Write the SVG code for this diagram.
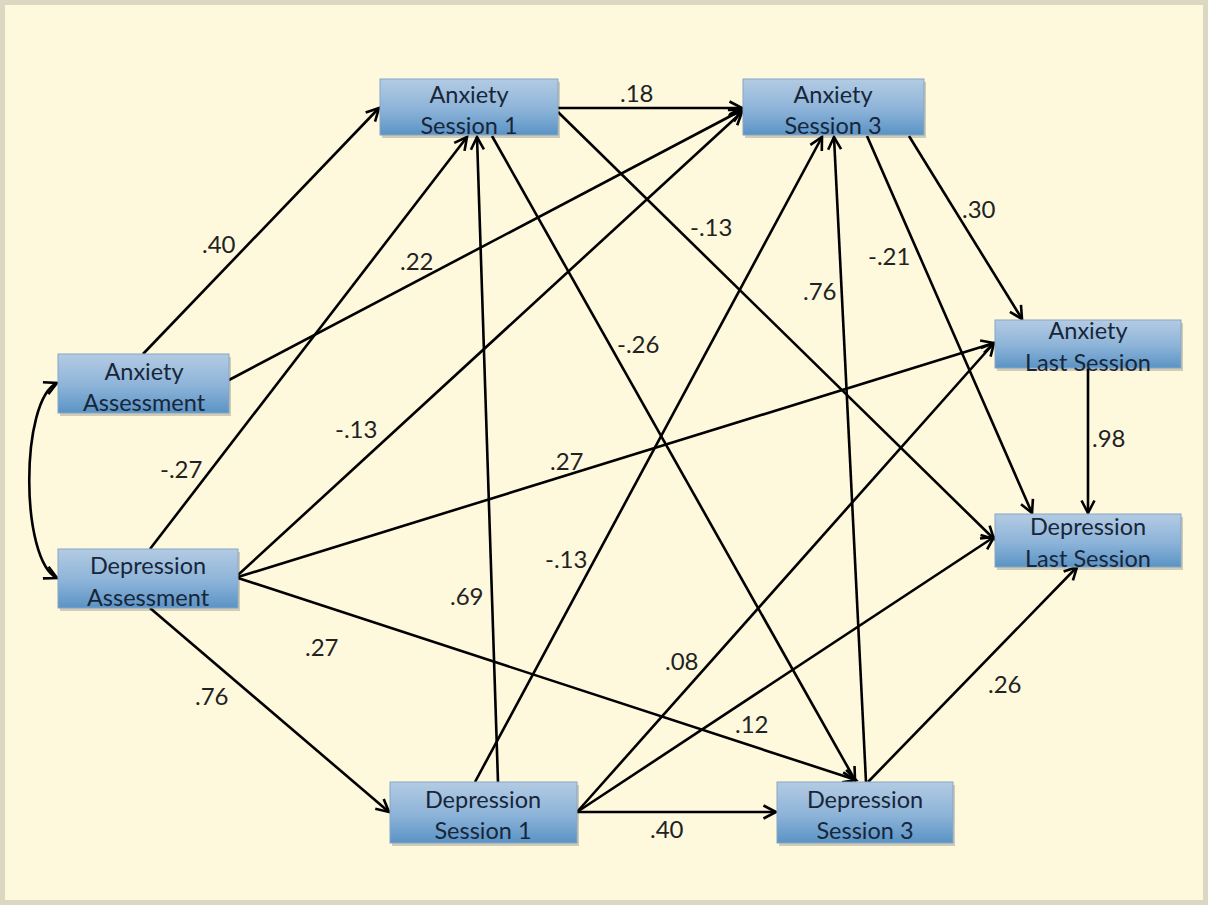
<svg xmlns="http://www.w3.org/2000/svg" width="1208" height="905" viewBox="0 0 1208 905">
<defs>
<linearGradient id="boxg" x1="0" y1="0" x2="0" y2="1">
<stop offset="0" stop-color="#b3cbe3"/>
<stop offset="0.55" stop-color="#8cb3d8"/>
<stop offset="1" stop-color="#5a93c5"/>
</linearGradient>
<marker id="arr" markerUnits="userSpaceOnUse" markerWidth="18" markerHeight="18" refX="14" refY="8" orient="auto-start-reverse" viewBox="0 0 18 16">
<path d="M1.5,1.5 L14,8 L1.5,14.5" fill="none" stroke="#000" stroke-width="2.6" stroke-linejoin="miter"/>
</marker>
</defs>
<style>
.node rect.b{fill:url(#boxg);stroke:#86a6c6;stroke-width:1}
.node rect.s{fill:#000;opacity:0.18}
.node text{font-family:Lato,"Open Sans",sans-serif;font-size:23.5px;fill:#18263a;text-anchor:middle}
.edges line,.edges path{stroke:#000;stroke-width:2.6;fill:none;marker-end:url(#arr)}
.lbl text{font-family:Lato,"Open Sans",sans-serif;font-size:24px;fill:#222}
</style>
<rect x="0" y="0" width="1208" height="905" fill="#dcd7c3"/>
<rect x="5" y="5" width="1198" height="895" fill="#fef9dd"/>

<g class="edges">
<line x1="143" y1="354" x2="379" y2="108"/>
<line x1="229" y1="380" x2="742" y2="110"/>
<line x1="150" y1="549" x2="467" y2="137"/>
<line x1="238" y1="575" x2="742" y2="112"/>
<line x1="238" y1="577" x2="994" y2="343"/>
<line x1="150" y1="608" x2="389" y2="812"/>
<line x1="238" y1="578" x2="856" y2="780"/>
<line x1="558" y1="108" x2="742" y2="108"/>
<line x1="558" y1="112" x2="994" y2="539"/>
<line x1="492" y1="136" x2="855" y2="780"/>
<line x1="498" y1="782" x2="477" y2="137"/>
<line x1="475" y1="782" x2="822" y2="137"/>
<line x1="577" y1="812" x2="994" y2="343"/>
<line x1="577" y1="812" x2="994" y2="537"/>
<line x1="577" y1="812" x2="776" y2="812"/>
<line x1="866" y1="782" x2="834" y2="137"/>
<line x1="868" y1="782" x2="1077" y2="567"/>
<line x1="867" y1="136" x2="1032" y2="513"/>
<line x1="909" y1="136" x2="1022" y2="319"/>
<line x1="1088" y1="368" x2="1088" y2="513"/>
<path d="M57,383 C20,400 20,560 57,578" style="marker-start:url(#arr)"/>
</g>

<g id="anxiety-assessment" class="node">
<rect class="s" x="60" y="357" width="171" height="59"/>
<rect class="b" x="58" y="354" width="171" height="59"/>
<text x="144" y="380">Anxiety</text>
<text x="144" y="411">Assessment</text>
</g>
<g id="depression-assessment" class="node">
<rect class="s" x="60" y="552" width="180" height="59"/>
<rect class="b" x="58" y="549" width="180" height="59"/>
<text x="148" y="574">Depression</text>
<text x="148" y="606">Assessment</text>
</g>
<g id="anxiety-session-1" class="node">
<rect class="s" x="382" y="82" width="178" height="56"/>
<rect class="b" x="380" y="79" width="178" height="56"/>
<text x="469" y="103">Anxiety</text>
<text x="469" y="134">Session 1</text>
</g>
<g id="anxiety-session-3" class="node">
<rect class="s" x="745" y="82" width="181" height="56"/>
<rect class="b" x="743" y="79" width="181" height="56"/>
<text x="833" y="103">Anxiety</text>
<text x="833" y="134">Session 3</text>
</g>
<g id="anxiety-last-session" class="node">
<rect class="s" x="997" y="323" width="186" height="48"/>
<rect class="b" x="995" y="320" width="186" height="48"/>
<text x="1088" y="339">Anxiety</text>
<text x="1088" y="371">Last Session</text>
</g>
<g id="depression-last-session" class="node">
<rect class="s" x="997" y="517" width="186" height="53"/>
<rect class="b" x="995" y="514" width="186" height="53"/>
<text x="1088" y="535">Depression</text>
<text x="1088" y="567">Last Session</text>
</g>
<g id="depression-session-1" class="node">
<rect class="s" x="392" y="785" width="187" height="61"/>
<rect class="b" x="390" y="782" width="187" height="61"/>
<text x="483" y="808">Depression</text>
<text x="483" y="839">Session 1</text>
</g>
<g id="depression-session-3" class="node">
<rect class="s" x="779" y="785" width="176" height="61"/>
<rect class="b" x="777" y="782" width="176" height="61"/>
<text x="865" y="808">Depression</text>
<text x="865" y="839">Session 3</text>
</g>

<g class="lbl">
<text x="202" y="253">.40</text>
<text x="400" y="270">.22</text>
<text x="160" y="478">-.27</text>
<text x="335" y="438">-.13</text>
<text x="550" y="470">.27</text>
<text x="450" y="605">.69</text>
<text x="545" y="568">-.13</text>
<text x="305" y="656">.27</text>
<text x="195" y="705">.76</text>
<text x="665" y="670">.08</text>
<text x="735" y="733">.12</text>
<text x="650" y="838">.40</text>
<text x="620" y="102">.18</text>
<text x="690" y="236">-.13</text>
<text x="617" y="353">-.26</text>
<text x="803" y="300">.76</text>
<text x="868" y="265">-.21</text>
<text x="962" y="218">.30</text>
<text x="988" y="693">.26</text>
<text x="1092" y="447">.98</text>
</g>
</svg>
